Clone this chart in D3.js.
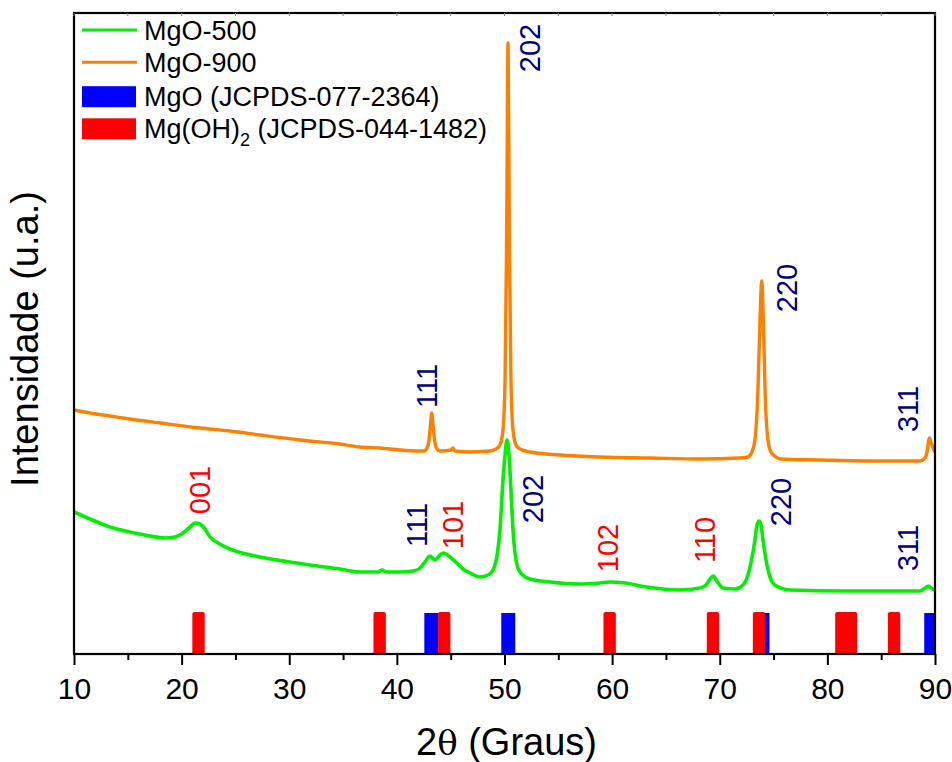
<!DOCTYPE html>
<html>
<head>
<meta charset="utf-8">
<script src="https://cdn.jsdelivr.net/npm/d3@7"></script>
<style>
  html, body { margin: 0; padding: 0; background: #fff; }
  svg { display: block; font-family: "Liberation Sans", Arial, sans-serif; }
</style>
</head>
<body>
<svg id="chart" width="952" height="762"></svg>
<script>
// ---------------- DATA ----------------
const xTicks = [10, 20, 30, 40, 50, 60, 70, 80, 90];
const xMinorTicks = [15, 25, 35, 45, 55, 65, 75, 85];

// MgO-500 pattern: [2θ, intensity (a.u.)]
const mgo500 = [
  [10.00,142],[11.49,135],[13.35,127],[15.20,122],[17.06,118],[18.46,116],[19.38,117],
  [20.13,121],[20.78,127],[21.24,131],[21.71,130],[22.17,125],[22.64,117],[23.38,111],
  [24.49,105],[27.28,97],[30.07,92],[31.93,89],[34.72,85],[36.57,82],[38.25,82],
  [38.62,84],[38.99,82],[40.29,82],[41.50,83],[42.15,86],[42.61,92],[43.08,98],
  [43.54,94],[44.01,99],[44.31,101],[44.94,97],[45.56,91],[46.14,85],[46.79,81],
  [47.72,77],[48.47,79],[48.93,84],[49.30,98],[49.58,124],[49.86,174],[50.05,199],
  [50.23,214],[50.42,199],[50.60,164],[50.79,124],[51.07,94],[51.44,82],[52.37,75],
  [54.23,72],[57.01,70],[58.87,71],[59.80,72],[61.20,71],[63.21,67],[66.31,64],
  [68.16,66],[68.72,69],[69.10,75],[69.40,78],[69.74,73],[70.30,66],[71.41,65],
  [72.16,69],[72.62,79],[72.99,96],[73.27,114],[73.46,129],[73.65,133],[73.83,129],
  [74.02,114],[74.30,94],[74.67,77],[75.13,69],[76.53,64],[81.73,63],[86.75,63],
  [88.60,63],[89.07,66],[89.38,68],[89.63,66],[90.00,64]
];

// MgO-900 pattern: [2θ, intensity (a.u.)]
const mgo900 = [
  [10.00,244],[11.49,241],[13.35,238],[15.20,235],[17.99,231],[21.71,226],[24.49,223],
  [27.28,219],[31.00,214],[34.72,210],[36.57,207],[38.43,206],[40.29,204],[42.15,203],
  [42.52,203],[42.80,206],[42.99,214],[43.12,229],[43.24,241],[43.36,229],[43.50,214],
  [43.68,206],[44.01,203],[45.03,204],[45.21,206],[45.40,203],[46.79,202],[48.65,203],
  [49.21,205],[49.58,209],[49.86,224],[50.05,274],[50.19,404],[50.33,611],[50.46,404],
  [50.60,274],[50.79,224],[51.07,209],[51.44,205],[52.37,202],[55.16,199],[58.87,197],
  [63.52,196],[68.16,195],[71.88,196],[72.62,197],[72.99,202],[73.27,214],[73.55,264],
  [73.74,334],[73.90,373],[74.05,334],[74.21,264],[74.48,214],[74.76,202],[75.23,197],
  [75.60,195],[79.32,194],[84.89,193],[88.60,193],[89.07,196],[89.26,202],[89.48,216],
  [89.63,212],[89.81,206],[90.00,202]
];

// Reference patterns (peak positions, 2θ)
const mgoRefPeaks = [43.2, 50.35, 73.97, 89.65];
const mgoh2RefPeaks = [21.57, 38.4, 44.4, 59.77, 69.37, 73.65, 81.3, 82.2, 86.2];
const refHeight = 42;

// hkl annotations: [label, 2θ, intensity, phase]
const labels900 = [
  ["111", 43.73, 268, "MgO"],
  ["202", 53.30, 606, "MgO"],
  ["220", 77.18, 366, "MgO"],
  ["311", 88.42, 245, "MgO"]
];
const labels500 = [
  ["001", 22.64, 164, "MgOH2"],
  ["111", 42.80, 129, "MgO"],
  ["101", 46.14, 129, "MgOH2"],
  ["202", 53.58, 155, "MgO"],
  ["102", 60.55, 106, "MgOH2"],
  ["110", 69.56, 114, "MgOH2"],
  ["220", 76.62, 152, "MgO"],
  ["311", 88.42, 106, "MgO"]
];

const legendItems = [
  {name: "MgO-500", type: "line", color: "#00f000"},
  {name: "MgO-900", type: "line", color: "#ff8000"},
  {name: "MgO (JCPDS-077-2364)", type: "rect", color: "#0000ff"},
  {name: "Mg(OH)|2| (JCPDS-044-1482)", type: "rect", color: "#ff0000"}
];

// ---------------- CHART ----------------
const svg = d3.select("#chart");
const L = 74, R = 935, T = 13, B = 654;
const x = d3.scaleLinear().domain([10, 90]).range([L, R]);
const y = d3.scaleLinear().domain([0, 641]).range([B, T]);

const colors = { MgO: "#000080", MgOH2: "#ff0000" };

svg.append("defs").append("clipPath").attr("id", "clip")
  .append("rect").attr("x", L).attr("y", T).attr("width", R - L).attr("height", B - T);

const plot = svg.append("g").attr("clip-path", "url(#clip)");

// reference bars
const barW = 1.3;
plot.selectAll("rect.mgo").data(mgoRefPeaks).enter().append("rect")
  .attr("class", "mgo")
  .attr("x", d => x(d - barW / 2))
  .attr("width", d => x(d + barW / 2) - x(d - barW / 2))
  .attr("y", y(refHeight - 1))
  .attr("height", y(0) - y(refHeight - 1))
  .attr("fill", "#0000ff");

const barW2 = 1.15;
plot.selectAll("rect.mgoh2").data(mgoh2RefPeaks).enter().append("rect")
  .attr("class", "mgoh2")
  .attr("x", d => x(d - barW2 / 2))
  .attr("width", d => x(d + barW2 / 2) - x(d - barW2 / 2))
  .attr("y", y(refHeight))
  .attr("height", y(0) - y(refHeight) + 3)
  .attr("rx", 2)
  .attr("fill", "#ff0000");

// curves
const line = d3.line().x(d => x(d[0])).y(d => y(d[1])).curve(d3.curveMonotoneX);
plot.append("path").datum(mgo900).attr("d", line)
  .attr("fill", "none").attr("stroke", "#ff8000").attr("stroke-width", 3.4)
  .attr("stroke-linejoin", "round");
plot.append("path").datum(mgo500).attr("d", line)
  .attr("fill", "none").attr("stroke", "#00f000").attr("stroke-width", 3.6)
  .attr("stroke-linejoin", "round");

// hkl labels
function drawLabels(arr) {
  svg.append("g").selectAll("text").data(arr).enter().append("text")
    .attr("transform", d => `translate(${x(d[1])},${y(d[2])}) rotate(-90)`)
    .attr("text-anchor", "middle")
    .attr("font-size", 29)
    .attr("fill", d => colors[d[3]])
    .text(d => d[0]);
}
drawLabels(labels900);
drawLabels(labels500);

// frame
svg.append("rect").attr("x", L).attr("y", T).attr("width", R - L).attr("height", B - T)
  .attr("fill", "none").attr("stroke", "#000").attr("stroke-width", 2.2);

// faint top ticks
svg.append("g").selectAll("line").data(xTicks.concat(xMinorTicks)).enter().append("line")
  .attr("x1", d => x(d)).attr("x2", d => x(d))
  .attr("y1", T).attr("y2", T + 3)
  .attr("stroke", "#888").attr("stroke-width", 1);

// bottom axis
const xAxis = d3.axisBottom(x).tickValues(xTicks).tickSize(11).tickPadding(13)
  .tickFormat(d3.format("d"));
const gx = svg.append("g").attr("transform", `translate(0,${B})`).call(xAxis);
gx.select(".domain").remove();
gx.selectAll(".tick line").attr("stroke", "#000").attr("stroke-width", 2);
gx.selectAll(".tick text").attr("font-size", 30).attr("fill", "#000")
  .attr("font-family", "Liberation Sans, Arial, sans-serif");
const xAxisMinor = d3.axisBottom(x).tickValues(xMinorTicks).tickSize(6).tickFormat("");
const gxm = svg.append("g").attr("transform", `translate(0,${B})`).call(xAxisMinor);
gxm.select(".domain").remove();
gxm.selectAll(".tick line").attr("stroke", "#000").attr("stroke-width", 2);

// axis titles
const xt = svg.append("text").attr("x", (L + R) / 2 + 2).attr("y", 755)
  .attr("text-anchor", "middle").attr("font-size", 38).attr("fill", "#000");
xt.append("tspan").text("2");
xt.append("tspan").attr("font-family", "DejaVu Serif, Liberation Serif, serif").attr("font-size", 34).text("θ");
xt.append("tspan").text(" (Graus)");

svg.append("text")
  .attr("transform", `translate(38,339) rotate(-90)`)
  .attr("text-anchor", "middle").attr("font-size", 38).attr("fill", "#000")
  .text("Intensidade (u.a.)");

// legend
const legend = svg.append("g");
const rowY = [30, 62.3, 96.7, 128.8];
legendItems.forEach((it, i) => {
  const cy = rowY[i];
  if (it.type === "line") {
    legend.append("line").attr("x1", 82).attr("x2", 137).attr("y1", cy).attr("y2", cy)
      .attr("stroke", it.color).attr("stroke-width", 3);
  } else {
    legend.append("rect").attr("x", 82).attr("y", cy - 10.5).attr("width", 54).attr("height", 21)
      .attr("fill", it.color);
  }
  const t = legend.append("text").attr("x", 144).attr("y", cy + 9.5)
    .attr("font-size", 27).attr("fill", "#000");
  const parts = it.name.split("|");
  if (parts.length === 1) {
    t.text(it.name);
  } else {
    t.append("tspan").text(parts[0]);
    t.append("tspan").attr("font-size", 18).attr("dy", 8).text(parts[1]);
    t.append("tspan").attr("dy", -8).text(parts[2]);
  }
});
</script>
</body>
</html>
